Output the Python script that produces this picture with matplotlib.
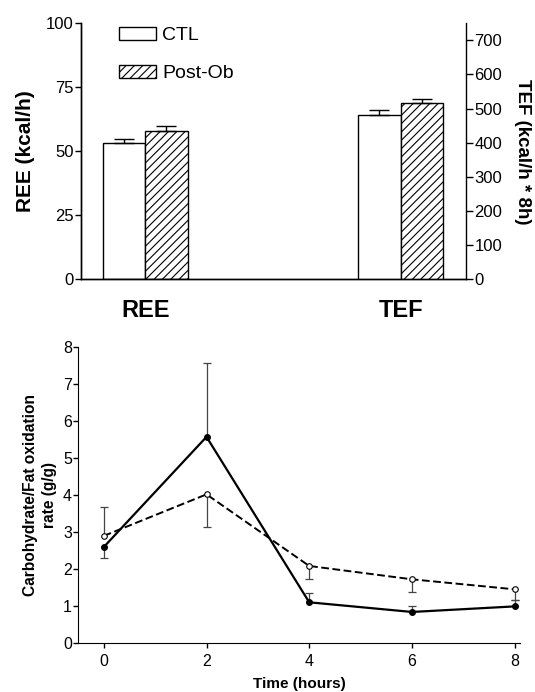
"""Two-panel figure: REE/TEF bars and carbohydrate/fat oxidation over time."""

import matplotlib

matplotlib.use("Agg")
import matplotlib.pyplot as plt
import numpy as np

plt.rcParams["font.family"] = ["Liberation Sans", "DejaVu Sans"]
plt.rcParams["hatch.linewidth"] = 0.8

# --- top panel data ---
groups = ["REE", "TEF"]
conditions = ["CTL", "Post-Ob"]
ree_mean = [53.2, 58.1]  # kcal/h
ree_err = [1.4, 1.6]
tef_mean = [480, 515]  # kcal/h * 8h
tef_err = [16, 12]

# --- bottom panel data ---
hours = [0, 2, 4, 6, 8]
solid_mean = [2.60, 5.57, 1.11, 0.85, 1.00]
solid_lo = [0.30, 0.0, 0.0, 0.0, 0.0]
solid_hi = [0.0, 1.98, 0.26, 0.17, 0.17]
dashed_mean = [2.90, 4.02, 2.09, 1.73, 1.46]
dashed_lo = [0.0, 0.87, 0.36, 0.33, 0.29]
dashed_hi = [0.77, 0.0, 0.0, 0.0, 0.0]

fig = plt.figure(figsize=(5.35, 6.92), dpi=100)

# ---------------- top panel ----------------
ax = fig.add_axes([0.151, 0.5964, 0.720, 0.370])
ax2 = ax.twinx()
width = 1.0
centers = np.array([0.0, 6.0])

styles = [dict(facecolor="white", hatch=None), dict(facecolor="white", hatch="////")]
handles = []
for i, cond in enumerate(conditions):
    offset = (i - 0.5) * width
    h = ax.bar(centers[0] + offset, ree_mean[i], width, yerr=[[0], [ree_err[i]]],
               edgecolor="black", linewidth=1.0, capsize=7.5,
               error_kw=dict(elinewidth=1.0, capthick=1.0), label=cond, **styles[i])
    ax2.bar(centers[1] + offset, tef_mean[i], width, yerr=[[0], [tef_err[i]]],
            edgecolor="black", linewidth=1.0, capsize=7.5,
            error_kw=dict(elinewidth=1.0, capthick=1.0), **styles[i])
    handles.append(h)

ax.set_xlim(-1.51, 7.53)
ax.set_ylim(0, 100)
ax.set_yticks([0, 25, 50, 75, 100])
ax2.set_ylim(0, 750)
ax2.set_yticks(range(0, 701, 100))
ax.set_xticks(centers)
ax.set_xticklabels(groups, fontsize=17, fontweight="bold")
ax.tick_params(axis="x", length=0, pad=14)
ax.tick_params(axis="y", labelsize=12, length=4, width=1, pad=1)
ax2.tick_params(axis="y", labelsize=12, length=5, width=1, pad=1)
for a in (ax, ax2):
    a.spines["top"].set_visible(False)
    for s in a.spines.values():
        s.set_linewidth(1.0)
ax.spines["right"].set_visible(False)
ax.set_ylabel("REE (kcal/h)", fontsize=15, fontweight="bold", labelpad=8)
ax2.set_ylabel("TEF (kcal/h * 8h)", fontsize=13.5, fontweight="bold",
               rotation=270, labelpad=21)

fig.legend(handles=handles, labels=conditions, loc="upper left",
           bbox_to_anchor=(0.222, 0.961), frameon=False, fontsize=14,
           handlelength=1.9, handleheight=0.65, handletextpad=0.33,
           labelspacing=1.05, borderpad=0, borderaxespad=0)

# ---------------- bottom panel ----------------
bx = fig.add_axes([0.146, 0.0701, 0.8256, 0.4289])
err_color = "#444444"


def draw_err(x, y, lo, hi):
    x = np.asarray(x, float)
    y = np.asarray(y, float)
    lo = np.asarray(lo, float)
    hi = np.asarray(hi, float)
    bx.vlines(x, y - lo, y + hi, color=err_color, linewidth=0.9, zorder=1)
    ends = np.concatenate([(y - lo)[lo > 0], (y + hi)[hi > 0]])
    xs = np.concatenate([x[lo > 0], x[hi > 0]])
    bx.plot(xs, ends, linestyle="none", marker="_", markersize=6,
            markeredgewidth=0.9, color=err_color, zorder=1)


draw_err(hours, dashed_mean, dashed_lo, dashed_hi)
draw_err(hours, solid_mean, solid_lo, solid_hi)
bx.plot(hours, dashed_mean, color="black", linewidth=1.4, linestyle=(0, (4, 1.8)),
        marker="o", markersize=4, markerfacecolor="white", markeredgecolor="black",
        markeredgewidth=0.8, zorder=3)
bx.plot(hours, solid_mean, color="black", linewidth=1.6, marker="o", markersize=4,
        markerfacecolor="black", zorder=4)

bx.set_xlim(-0.5, 8.1)
bx.set_ylim(0, 8)
bx.set_xticks(hours)
bx.set_yticks(range(0, 9))
bx.tick_params(axis="both", labelsize=11.5, length=3.5, width=1)
bx.tick_params(axis="y", pad=1)
bx.tick_params(axis="x", pad=4)
bx.spines["top"].set_visible(False)
bx.spines["right"].set_visible(False)
bx.set_xlabel("Time (hours)", fontsize=11, fontweight="bold", labelpad=6)
bx.set_ylabel("Carbohydrate/Fat oxidation\nrate (g/g)", fontsize=11.2,
              fontweight="bold", labelpad=4, linespacing=1.4)

fig.savefig("out.png", dpi=100)
